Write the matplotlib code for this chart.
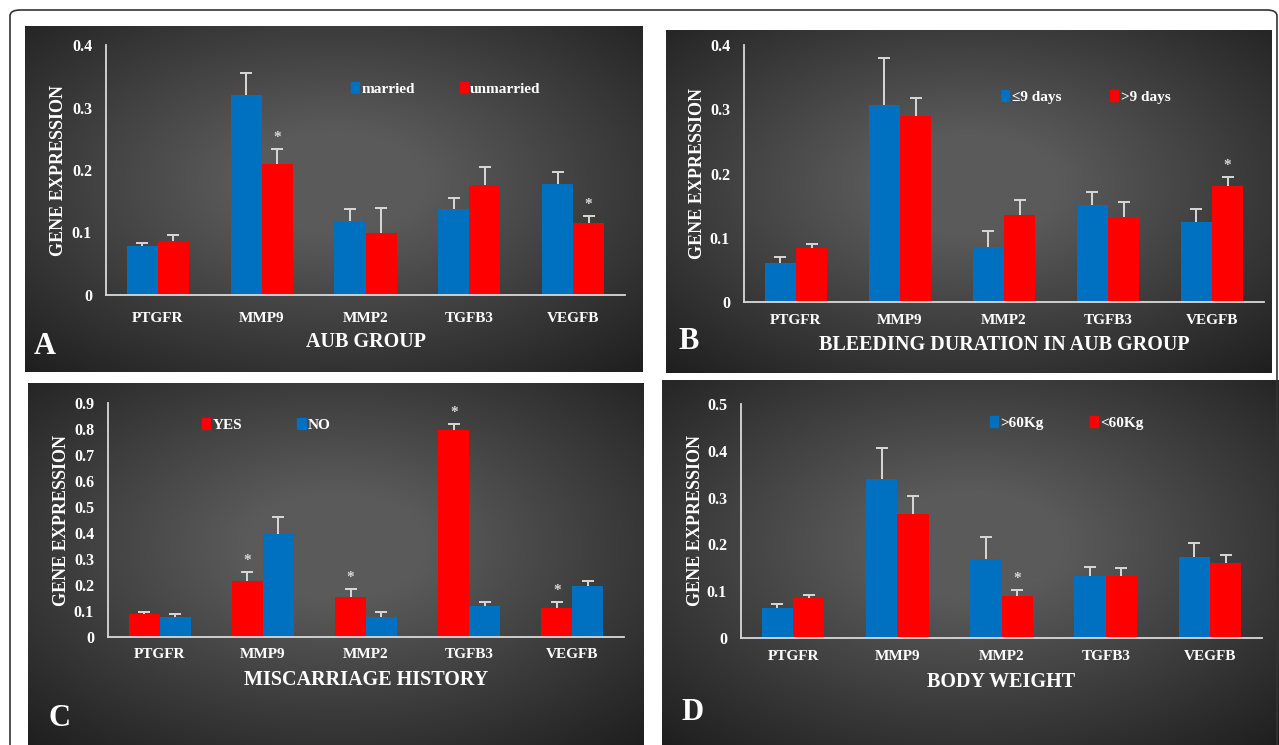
import numpy as np
import matplotlib
matplotlib.use("Agg")
import matplotlib.pyplot as plt
from matplotlib.patches import FancyBboxPatch, Patch

plt.rcParams['font.family'] = ['Liberation Serif', 'DejaVu Serif']
plt.rcParams['font.weight'] = 'bold'

genes = ['PTGFR', 'MMP9', 'MMP2', 'TGFB3', 'VEGFB']

# A: AUB group
a_married = [0.078, 0.320, 0.118, 0.138, 0.178]
a_married_err = [0.005, 0.035, 0.019, 0.018, 0.019]
a_unmarried = [0.086, 0.209, 0.099, 0.176, 0.115]
a_unmarried_err = [0.010, 0.024, 0.040, 0.029, 0.012]
a_stars = [False, True, False, False, True]      # on second series

# B: bleeding duration
b_short = [0.060, 0.306, 0.085, 0.151, 0.125]
b_short_err = [0.010, 0.074, 0.025, 0.020, 0.020]
b_long = [0.084, 0.290, 0.135, 0.133, 0.181]
b_long_err = [0.006, 0.028, 0.023, 0.022, 0.014]
b_stars = [False, False, False, False, True]     # on second series

# C: miscarriage history
c_yes = [0.090, 0.215, 0.155, 0.795, 0.110]
c_yes_err = [0.005, 0.035, 0.030, 0.025, 0.025]
c_no = [0.077, 0.395, 0.077, 0.120, 0.195]
c_no_err = [0.013, 0.065, 0.018, 0.015, 0.020]
c_stars = [False, True, True, True, True]        # on first series

# D: body weight
d_over = [0.065, 0.340, 0.168, 0.132, 0.174]
d_over_err = [0.007, 0.065, 0.047, 0.020, 0.029]
d_under = [0.086, 0.266, 0.090, 0.132, 0.160]
d_under_err = [0.006, 0.037, 0.013, 0.018, 0.017]
d_stars = [False, False, True, False, False]     # on second series

BLUE = '#0070C0'
RED = '#FF0000'
ERR = '#d9d9d9'
W, H = 1279, 745

fig = plt.figure(figsize=(W / 100, H / 100), dpi=100)
fig.patch.set_facecolor('white')


def rect(x0, y0, x1, y1):
    return [x0 / W, 1 - y1 / H, (x1 - x0) / W, (y1 - y0) / H]


def fx(x, y):
    return x / W, 1 - y / H


# outer rounded frame
frame = FancyBboxPatch((10 / W, -0.05), 1267 / W, 1 - 10 / H + 0.05,
                       boxstyle="round,pad=0,rounding_size=0.008",
                       transform=fig.transFigure, fill=False,
                       edgecolor='#333333', linewidth=1.2)
fig.patches.append(frame)

yy, xx = np.mgrid[0:1:200j, 0:1:300j]
grad = matplotlib.colors.LinearSegmentedColormap.from_list(
    'g', ['#1e1e1e', '#5a5a5a'])


def background(box, cx=0.5, cy=0.45):
    bg = fig.add_axes(rect(*box))
    d = np.sqrt(((xx - cx) / 0.75) ** 2 + ((yy - cy) / 0.75) ** 2)
    img = np.clip(1 - d, 0, 1)
    bg.imshow(img, cmap=grad, aspect='auto', vmin=0, vmax=0.8,
              extent=[0, 1, 0, 1], origin='upper')
    bg.set_axis_off()


def up_errors(ax, x, vals, errs):
    vals = np.asarray(vals)
    errs = np.asarray(errs)
    ax.vlines(x, vals, vals + errs, color=ERR, linewidth=1.4, zorder=3)
    ax.plot(x, vals + errs, linestyle='none', marker='_', markersize=9,
            markeredgewidth=1.4, color=ERR, zorder=3)


def panel(box, axbox, s1, e1, s2, e2, stars, star_series, c1, c2, lab1, lab2,
          ymax, ystep, xlabel, letter, cat_y, xl_y, letter_xy, ylab_x,
          leg_xy, colsp):
    background(box)
    ax = fig.add_axes(rect(*axbox))
    ax.patch.set_alpha(0)
    x = np.arange(len(genes))
    w = 0.3
    ax.bar(x - w / 2, s1, w, color=c1, label=lab1, zorder=2)
    ax.bar(x + w / 2, s2, w, color=c2, label=lab2, zorder=2)
    up_errors(ax, x - w / 2, s1, e1)
    up_errors(ax, x + w / 2, s2, e2)
    if star_series == 1:
        sx, sv, se = x - w / 2, s1, e1
    else:
        sx, sv, se = x + w / 2, s2, e2
    for i, st in enumerate(stars):
        if st:
            ax.text(sx[i], sv[i] + se[i] + ymax * 0.02, '*',
                    ha='center', va='bottom', color=ERR, fontsize=11)
    ax.set_xlim(-0.5, len(genes) - 0.5)
    ax.set_ylim(0, ymax)
    ticks = np.round(np.arange(0, ymax + 1e-9, ystep), 2)
    ax.set_yticks(ticks)
    ax.set_yticklabels(['0' if t == 0 else f'{t:g}' for t in ticks])
    ax.set_xticks(x)
    ax.set_xticklabels([])
    for sp in ['top', 'right']:
        ax.spines[sp].set_visible(False)
    for sp in ['left', 'bottom']:
        ax.spines[sp].set_color(ERR)
        ax.spines[sp].set_linewidth(1.3)
    ax.tick_params(length=0, colors='white', labelsize=11.5, pad=10)
    for lbl in ax.get_yticklabels():
        lbl.set_fontweight('bold')
    # category labels
    for i, g in enumerate(genes):
        xf = (axbox[0] + (axbox[2] - axbox[0]) * (i + 0.5) / len(genes))
        fig.text(*fx(xf, cat_y), g, ha='center', va='center', color='white',
                 fontsize=11, fontweight='bold')
    fig.text(*fx((axbox[0] + axbox[2]) / 2, xl_y), xlabel, ha='center',
             va='center', color='white', fontsize=14.5, fontweight='bold')
    fig.text(*fx(*letter_xy), letter, ha='center', va='center', color='white',
             fontsize=22, fontweight='bold')
    fig.text(*fx(ylab_x, (axbox[1] + axbox[3]) / 2), 'GENE EXPRESSION',
             rotation=90, ha='center', va='center', color='white',
             fontsize=13, fontweight='bold')
    handles = [Patch(color=c1), Patch(color=c2)]
    leg = fig.legend(handles, [lab1, lab2], loc='center left',
                     bbox_to_anchor=fx(*leg_xy), ncol=2, frameon=False,
                     handlelength=0.55, handleheight=0.7, handletextpad=0.15,
                     columnspacing=colsp, borderpad=0, borderaxespad=0,
                     prop=dict(size=11, weight='bold'))
    for t in leg.get_texts():
        t.set_color('white')
    return ax


panel((25, 26, 643, 372), (106, 45, 625, 295),
      a_married, a_married_err, a_unmarried, a_unmarried_err, a_stars, 2,
      BLUE, RED, 'married', 'unmarried', 0.4, 0.1,
      'AUB GROUP', 'A', 318, 342, (45, 346), 59, (351, 89), 2.9)

panel((666, 30, 1272, 373), (744, 45, 1264, 302),
      b_short, b_short_err, b_long, b_long_err, b_stars, 2,
      BLUE, RED, '≤9 days', '>9 days', 0.4, 0.1,
      'BLEEDING DURATION IN AUB GROUP', 'B', 320, 345, (689, 342), 697,
      (1001, 97), 3.2)

panel((28, 383, 643, 745), (108, 403, 624, 637),
      c_yes, c_yes_err, c_no, c_no_err, c_stars, 1,
      RED, BLUE, 'YES', 'NO', 0.9, 0.1,
      'MISCARRIAGE HISTORY', 'C', 655, 680, (60, 718), 61, (202, 425), 3.6)

panel((662, 380, 1279, 745), (741, 404, 1262, 638),
      d_over, d_over_err, d_under, d_under_err, d_stars, 2,
      BLUE, RED, '>60Kg', '<60Kg', 0.5, 0.1,
      'BODY WEIGHT', 'D', 657, 682, (692, 712), 696, (990, 423), 3.0)

fig.savefig('out.png', dpi=100, facecolor='white')
